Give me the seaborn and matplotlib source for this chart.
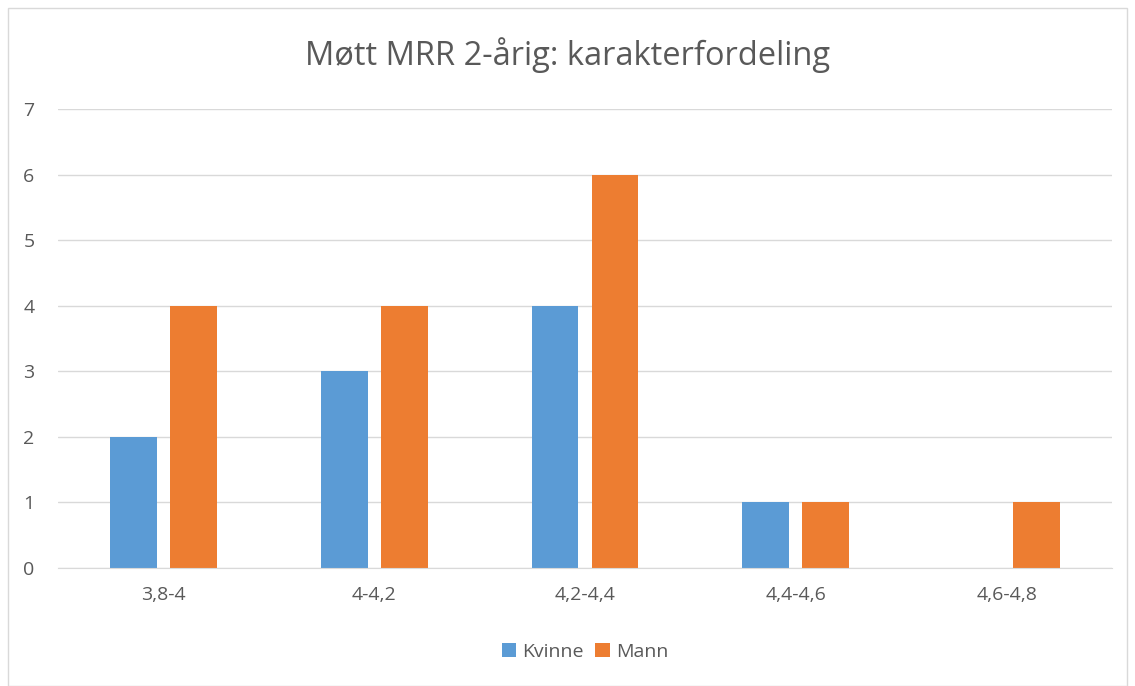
import matplotlib.pyplot as plt
import pandas as pd
import seaborn as sns
from matplotlib.patches import Rectangle

# data
intervals = ["3,8-4", "4-4,2", "4,2-4,4", "4,4-4,6", "4,6-4,8"]
kvinne = [2, 3, 4, 1, 0]
mann = [4, 4, 6, 1, 1]
series = ["Kvinne", "Mann"]
colors = ["#5B9BD5", "#ED7D31"]

df = pd.DataFrame({
    "Intervall": intervals * 2,
    "Antall": kvinne + mann,
    "Kjønn": ["Kvinne"] * len(intervals) + ["Mann"] * len(intervals),
})

sns.set_style("white")
plt.rcParams["font.family"] = ["Open Sans", "DejaVu Sans"]

fig = plt.figure(figsize=(11.35, 6.86), dpi=100)
ax = fig.add_axes([58 / 1135, 1 - 568 / 686, (1112 - 58) / 1135, (568 - 109) / 686])

sns.barplot(
    data=df, x="Intervall", y="Antall", hue="Kjønn",
    hue_order=series, palette=colors, width=0.57, gap=0.22,
    saturation=1, ax=ax, legend=True, linewidth=0,
)

ax.set_ylim(0, 7)
ax.set_xlim(-0.5, 4.5)
ax.set_yticks(range(0, 8))
ax.yaxis.grid(True, color="#D9D9D9", linewidth=1)
ax.set_axisbelow(True)
for s in ["top", "right", "left"]:
    ax.spines[s].set_visible(False)
ax.spines["bottom"].set_color("#D9D9D9")
ax.tick_params(axis="both", length=0, labelsize=14, colors="#595959", pad=13)
ax.tick_params(axis="y", pad=17)
ax.set_xlabel("")
ax.set_ylabel("")

fig.text(0.5, 1 - 55 / 686, "Møtt MRR 2-årig: karakterfordeling",
         ha="center", va="center", fontsize=23.5, color="#595959")

leg = ax.legend(loc="center", bbox_to_anchor=(0.5, (568 - 652) / (568 - 109)),
                ncol=2, frameon=False, fontsize=14, handlelength=0.75,
                handleheight=0.75, columnspacing=0.6, handletextpad=0.3)
for t in leg.get_texts():
    t.set_color("#595959")

fig.patches.append(Rectangle((8 / 1135, 0), 1 - 16 / 1135, 1 - 8 / 686,
                             transform=fig.transFigure, fill=False,
                             edgecolor="#D9D9D9", linewidth=1))

fig.savefig("out.png", dpi=100)
